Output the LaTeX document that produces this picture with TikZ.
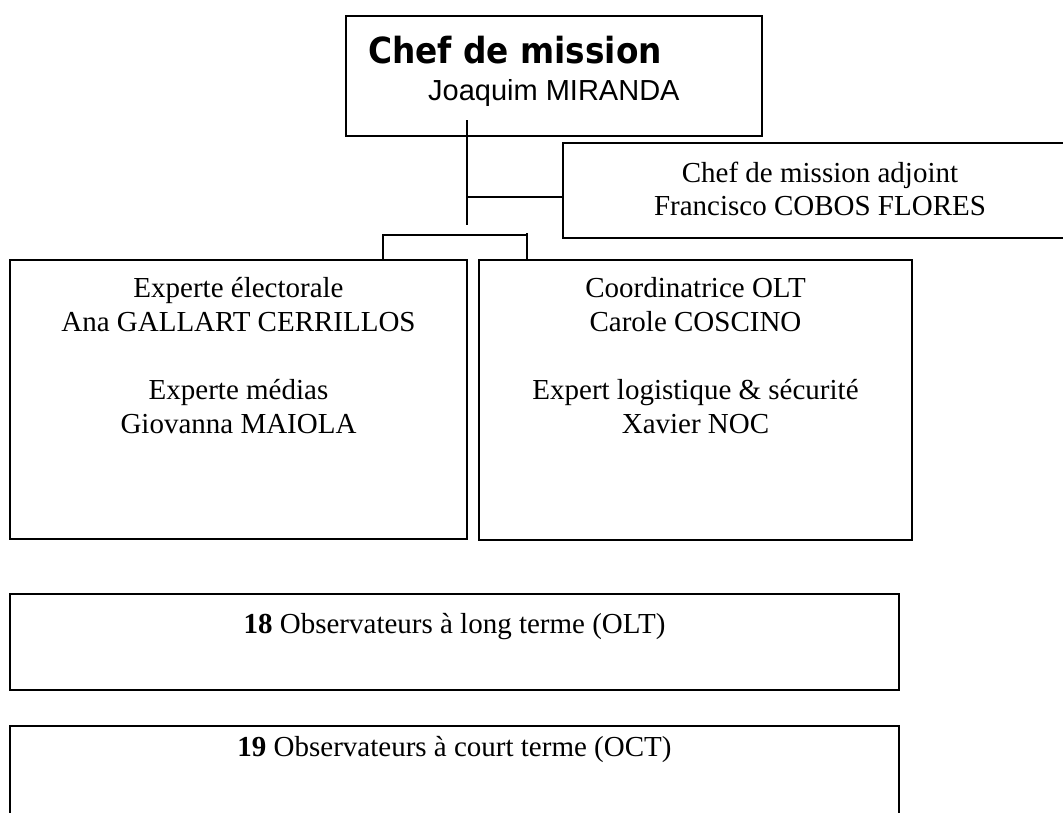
\documentclass[tikz,border=0pt]{standalone}
\usepackage{fontspec}
\setmainfont{Liberation Serif}
\newfontfamily\arialf{Liberation Sans}
\newfontfamily\verdf{DejaVu Sans}
\tikzset{
  box/.style={draw=black, line width=1.6pt, inner sep=0pt, outer sep=0pt, anchor=north west, fill=white},
  txt/.style={inner sep=0pt, anchor=base, font=\fontsize{29}{34}\selectfont},
  link/.style={draw=black, line width=1.6pt}
}
\begin{document}
\begin{tikzpicture}[x=1pt, y=-1pt]
\useasboundingbox (0,0) rectangle (1063,812);
\clip (0,0) rectangle (1063,812);
\fill[white] (0,0) rectangle (1063,812);

% boxes
\node[box, minimum width=416pt, minimum height=120pt] (chef) at (346,16) {};
\node[box, minimum width=514pt, minimum height=95pt] (adj) at (563,143) {};
\node[box, minimum width=457pt, minimum height=279pt] (lbox) at (10,260) {};
\node[box, minimum width=433pt, minimum height=280pt] (rbox) at (479,260) {};
\node[box, minimum width=889pt, minimum height=96pt] (olt) at (10,594) {};
\node[box, minimum width=889pt, minimum height=100pt] (oct) at (10,726) {};

% chef texts
\node[inner sep=0pt, anchor=base west, font=\verdf\bfseries\fontsize{36}{40}\selectfont] (chefT) at (368,63) {\scalebox{0.91}[1]{Chef de mission}};
\node[inner sep=0pt, anchor=base west, font=\arialf\fontsize{29}{34}\selectfont] (chefN) at (428,100) {Joaquim MIRANDA};

% adjoint
\node[txt] (adjT) at (820,182) {Chef de mission adjoint};
\node[txt] (adjN) at (820,215) {Francisco COBOS FLORES};

% left box
\node[txt] (l1) at (238.5,297) {Experte électorale};
\node[txt] (l2) at (238.5,331) {Ana GALLART CERRILLOS};
\node[txt] (l3) at (238.5,399) {Experte médias};
\node[txt] (l4) at (238.5,433) {Giovanna MAIOLA};

% right box
\node[txt] (r1) at (695.5,297) {Coordinatrice OLT};
\node[txt] (r2) at (695.5,331) {Carole COSCINO};
\node[txt] (r3) at (695.5,399) {Expert logistique \& sécurité};
\node[txt] (r4) at (695.5,433) {Xavier NOC};

% bottom bars
\node[txt] (oltT) at (454.5,633) {\textbf{18} Observateurs à long terme (OLT)};
\node[txt] (octT) at (454.5,756) {\textbf{19} Observateurs à court terme (OCT)};

% connectors
\coordinate (vt) at (467,120);
\coordinate (vb) at (467,225);
\coordinate (hj) at (467,197);
\draw[link] (vt) -- (vb);
\draw[link] (hj) -- (hj -| adj.west);
\coordinate (bL) at (383,235);
\coordinate (bR) at (527,235);
\coordinate (bRt) at (527,233);
\draw[link] (bL |- lbox.north) -- (bL) -- (bR);
\draw[link] (bRt) -- (bRt |- rbox.north);
\end{tikzpicture}
\end{document}
